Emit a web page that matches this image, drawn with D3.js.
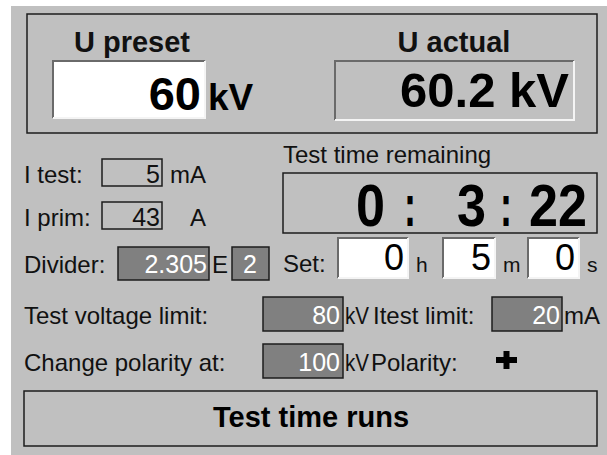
<!DOCTYPE html>
<html>
<head>
<meta charset="utf-8">
<script src="https://cdn.jsdelivr.net/npm/d3@7"></script>
<style>
  body { margin: 0; background: #fff; }
  svg text { font-family: "Liberation Sans", Arial, sans-serif; }
</style>
</head>
<body>
<div id="panel"></div>
<script>
const FRAME_WIDTH = 607;
const FRAME_HEIGHT = 455;

// values shown on the panel
const headLabels = ['U preset', 'U actual'];
const headValues = ['60', '60.2 kV'];
const presetUnit = 'kV';
const currentLabels = ['I test:', 'I prim:'];
const currentValues = [5, 43];
const currentUnits = ['mA', 'A'];
const dividerValue = '2.305';
const dividerExp = 2;
const remainingLabel = 'Test time remaining';
const remainingParts = ['0', ':', '3', ':', '22'];
const setLabel = 'Set:';
const setValues = [0, 5, 0];
const setUnits = ['h', 'm', 's'];
const limitLabels = ['Test voltage limit:', 'Change polarity at:'];
const limitValues = [80, 100];
const limitUnits = ['kV', 'kV'];
const sideLabels = ['Itest limit:', 'Polarity:'];
const itestLimit = [20];
const itestUnit = 'mA';
const statusText = 'Test time runs';

const BG = '#c0c0c0';
const DARK = '#808080';
const INK = '#111';

const svg = d3.select('#panel')
  .append('svg')
    .attr('width', FRAME_WIDTH)
    .attr('height', FRAME_HEIGHT);

svg.append('rect')
  .attr('x', 11).attr('y', 6)
  .attr('width', FRAME_WIDTH - 11).attr('height', FRAME_HEIGHT - 6)
  .attr('fill', BG);

// sunken windows-style field
function sunken(g, x, y, w, h, fill) {
  g.append('rect').attr('x', x).attr('y', y).attr('width', w).attr('height', h).attr('fill', fill);
  g.append('path')
    .attr('d', `M${x},${y + h} V${y} H${x + w}`)
    .attr('fill', 'none').attr('stroke', '#6a6a6a').attr('stroke-width', 2);
  g.append('path')
    .attr('d', `M${x},${y + h} H${x + w} V${y}`)
    .attr('fill', 'none').attr('stroke', '#f4f4f4').attr('stroke-width', 2);
}

function flat(g, x, y, w, h, fill) {
  g.append('rect').attr('x', x).attr('y', y).attr('width', w).attr('height', h)
    .attr('fill', fill).attr('stroke', '#1c1c1c').attr('stroke-width', 1.5);
}

// ---- top frame with U preset / U actual
svg.append('rect')
  .attr('x', 27).attr('y', 14).attr('width', 570).attr('height', 119)
  .attr('fill', 'none').attr('stroke', '#1c1c1c').attr('stroke-width', 1.5);

const headX = d3.scaleOrdinal().domain(headLabels).range([132, 454]);

svg.selectAll('text.head')
  .data(headLabels)
  .enter()
  .append('text')
    .attr('class', 'head')
    .attr('x', (d) => headX(d))
    .attr('y', 52)
    .attr('text-anchor', 'middle')
    .attr('font-size', '29px')
    .attr('font-weight', 'bold')
    .attr('fill', INK)
    .text((d) => d);

sunken(svg, 53, 61, 152, 57, '#fff');
sunken(svg, 335, 61, 239, 59, BG);

const headBox = [{end: 201, size: 47, base: 110}, {end: 569, size: 49, base: 107}];
svg.selectAll('text.headval')
  .data(headValues)
  .enter()
  .append('text')
    .attr('class', 'headval')
    .attr('x', (d, i) => headBox[i].end)
    .attr('y', (d, i) => headBox[i].base)
    .attr('text-anchor', 'end')
    .attr('font-size', (d, i) => headBox[i].size + 'px')
    .attr('font-weight', 'bold')
    .attr('fill', '#000')
    .text((d) => d);

svg.append('text')
  .attr('x', 208).attr('y', 110)
  .attr('font-size', '37px').attr('font-weight', 'bold').attr('fill', '#000')
  .text(presetUnit);

// ---- currents
const rowY = d3.scaleOrdinal().domain(currentLabels).range([183, 226]);

svg.selectAll('text.curlab')
  .data(currentLabels)
  .enter()
  .append('text')
    .attr('class', 'curlab')
    .attr('x', 24).attr('y', (d) => rowY(d))
    .attr('font-size', '24px').attr('fill', INK)
    .text((d) => d);

currentLabels.forEach((d) => flat(svg, 102, rowY(d) - 24, 60, 27, 'none'));

svg.selectAll('text.curval')
  .data(currentValues)
  .enter()
  .append('text')
    .attr('class', 'curval')
    .attr('x', 160).attr('y', (d, i) => rowY(currentLabels[i]))
    .attr('text-anchor', 'end')
    .attr('font-size', '25px').attr('fill', INK)
    .text((d) => d);

svg.selectAll('text.curunit')
  .data(currentUnits)
  .enter()
  .append('text')
    .attr('class', 'curunit')
    .attr('x', 206).attr('y', (d, i) => rowY(currentLabels[i]))
    .attr('text-anchor', 'end')
    .attr('font-size', '24px').attr('fill', INK)
    .text((d) => d);

// ---- divider
svg.append('text').attr('x', 24).attr('y', 273)
  .attr('font-size', '24px').attr('fill', INK).text('Divider:');
flat(svg, 118, 247, 91, 33, DARK);
svg.append('text').attr('x', 207).attr('y', 273).attr('text-anchor', 'end')
  .attr('font-size', '25px').attr('fill', '#fff').text(dividerValue);
svg.append('text').attr('x', 212).attr('y', 273)
  .attr('font-size', '24px').attr('fill', INK).text('E');
flat(svg, 232, 247, 37, 33, DARK);
svg.append('text').attr('x', 250).attr('y', 273).attr('text-anchor', 'middle')
  .attr('font-size', '25px').attr('fill', '#fff').text(dividerExp);

// ---- remaining time
svg.append('text').attr('x', 283).attr('y', 163)
  .attr('font-size', '24px').attr('fill', INK).text(remainingLabel);
flat(svg, 283, 173, 314, 60, 'none');

const partX = [356, 404, 457, 500, 529];
const partW = [29, 12, 29, 12, 58];
svg.selectAll('text.timer')
  .data(remainingParts)
  .enter()
  .append('text')
    .attr('class', 'timer')
    .attr('x', (d, i) => partX[i])
    .attr('y', 226)
    .attr('font-size', '60px').attr('font-weight', 'bold').attr('fill', '#000')
    .attr('textLength', (d, i) => partW[i])
    .attr('lengthAdjust', 'spacingAndGlyphs')
    .text((d) => d);

// ---- set time
svg.append('text').attr('x', 283).attr('y', 272)
  .attr('font-size', '24px').attr('fill', INK).text(setLabel);

const setBoxX = [338, 443, 528];
const setBoxW = [70, 52, 51];
setValues.forEach((d, i) => sunken(svg, setBoxX[i], 238, setBoxW[i], 40, '#fff'));

svg.selectAll('text.setval')
  .data(setValues)
  .enter()
  .append('text')
    .attr('class', 'setval')
    .attr('x', (d, i) => setBoxX[i] + setBoxW[i] - 4)
    .attr('y', 270)
    .attr('text-anchor', 'end')
    .attr('font-size', '36px').attr('fill', '#000')
    .text((d) => d);

svg.selectAll('text.setunit')
  .data(setUnits)
  .enter()
  .append('text')
    .attr('class', 'setunit')
    .attr('x', (d, i) => setBoxX[i] + setBoxW[i] + 8)
    .attr('y', 272)
    .attr('font-size', '21px').attr('fill', INK)
    .text((d) => d);

// ---- limits
const limY = d3.scaleOrdinal().domain(limitLabels).range([324, 371]);

svg.selectAll('text.limlab')
  .data(limitLabels)
  .enter()
  .append('text')
    .attr('class', 'limlab')
    .attr('x', 24).attr('y', (d) => limY(d))
    .attr('font-size', '24px').attr('fill', INK)
    .text((d) => d);

limitLabels.forEach((d) => flat(svg, 263, limY(d) - 27, 80, 34, DARK));

svg.selectAll('text.limval')
  .data(limitValues)
  .enter()
  .append('text')
    .attr('class', 'limval')
    .attr('x', 340).attr('y', (d, i) => limY(limitLabels[i]))
    .attr('text-anchor', 'end')
    .attr('font-size', '25px').attr('fill', '#fff')
    .text((d) => d);

svg.selectAll('text.limunit')
  .data(limitUnits)
  .enter()
  .append('text')
    .attr('class', 'limunit')
    .attr('x', 345).attr('y', (d, i) => limY(limitLabels[i]))
    .attr('font-size', '24px').attr('fill', INK)
    .attr('textLength', 24)
    .attr('lengthAdjust', 'spacingAndGlyphs')
    .text((d) => d);

svg.selectAll('text.side')
  .data(sideLabels)
  .enter()
  .append('text')
    .attr('class', 'side')
    .attr('x', (d, i) => i === 0 ? 373 : 371)
    .attr('y', (d, i) => limY(limitLabels[i]))
    .attr('font-size', '24px').attr('fill', INK)
    .text((d) => d);

flat(svg, 492, 297, 70, 34, DARK);
svg.selectAll('text.itl')
  .data(itestLimit)
  .enter()
  .append('text')
    .attr('class', 'itl')
    .attr('x', 560).attr('y', 324)
    .attr('text-anchor', 'end')
    .attr('font-size', '25px').attr('fill', '#fff')
    .text((d) => d);
svg.append('text').attr('x', 564).attr('y', 324)
  .attr('font-size', '24px').attr('fill', INK).text(itestUnit);

// polarity plus sign
svg.append('rect').attr('x', 496).attr('y', 357).attr('width', 21).attr('height', 6).attr('fill', '#000');
svg.append('rect').attr('x', 503.5).attr('y', 351).attr('width', 6).attr('height', 18).attr('fill', '#000');

// ---- status bar
flat(svg, 24, 391, 573, 55, 'none');
svg.append('text')
  .attr('x', 311).attr('y', 427)
  .attr('text-anchor', 'middle')
  .attr('font-size', '29px').attr('font-weight', 'bold').attr('fill', '#000')
  .text(statusText);
</script>
</body>
</html>
